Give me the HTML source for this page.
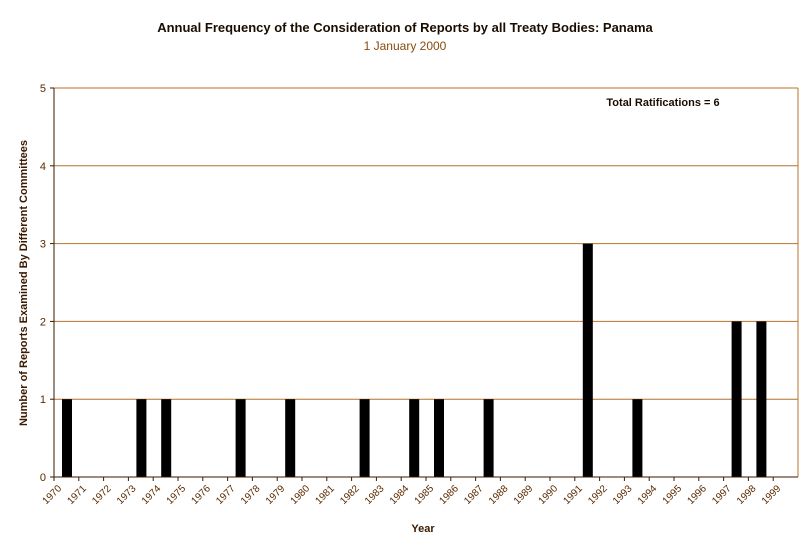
<!DOCTYPE html>
<html><head><meta charset="utf-8"><style>
body{margin:0;background:#fff;}
svg text{font-family:"Liberation Sans",Arial,sans-serif;}
</style></head><body>
<svg id="chart" width="811" height="552" xmlns="http://www.w3.org/2000/svg">
<text x="405" y="32" text-anchor="middle" font-size="13" font-weight="bold" fill="#1a0d00">Annual Frequency of the Consideration of Reports by all Treaty Bodies: Panama</text>
<text x="405" y="50" text-anchor="middle" font-size="12" fill="#8a4a10">1 January 2000</text>
<g id="grid"></g><g id="bars"></g><g id="axes"></g>
<text x="663" y="106" text-anchor="middle" font-size="11" font-weight="bold" fill="#1a0d00">Total Ratifications = 6</text>
<text x="423" y="532" text-anchor="middle" font-size="11" font-weight="bold" fill="#3a1a00">Year</text>
<text transform="translate(27,283) rotate(-90)" text-anchor="middle" font-size="11" font-weight="bold" fill="#3a1a00">Number of Reports Examined By Different Committees</text>
</svg>
<script>
const years=[1970,1971,1972,1973,1974,1975,1976,1977,1978,1979,1980,1981,1982,1983,1984,1985,1986,1987,1988,1989,1990,1991,1992,1993,1994,1995,1996,1997,1998,1999];
const counts=[1,0,0,1,1,0,0,1,0,1,0,0,1,0,1,1,0,1,0,0,0,3,0,1,0,0,0,2,2,0];
const yTicks=[0,1,2,3,4,5];
const NS="http://www.w3.org/2000/svg";
const X0=54,X1=798,Y0=477,Y1=88,YMAX=5;
const cw=(X1-X0)/years.length;
function xs(i){return X0+i*cw;}
function ys(v){return Y0-(v/YMAX)*(Y0-Y1);}
function mk(t,a,p){const e=document.createElementNS(NS,t);for(const k in a)e.setAttribute(k,a[k]);p.appendChild(e);return e;}
const grid=document.getElementById('grid'),bars=document.getElementById('bars'),axes=document.getElementById('axes');
yTicks.forEach(v=>{
 if(v>0){const l=mk('line',{x1:X0,x2:X1,y1:ys(v),y2:ys(v),stroke:'#b8702a','stroke-width':1},grid);
 
 }
 const tk=mk('line',{x1:X0-4,x2:X0,y1:ys(v),y2:ys(v),stroke:'#3a1a00'},axes);
 
 
 const t=mk('text',{x:X0-8,y:ys(v)+4,'text-anchor':'end','font-size':11,fill:'#5a2a00'},axes);
 t.textContent=v;
 
 
});
mk('line',{x1:X1,x2:X1,y1:Y1,y2:Y0,stroke:'#b8702a'},grid);
counts.forEach((c,i)=>{
 if(c<=0)return;
 const r=mk('rect',{x:xs(i)+8,y:ys(c),width:10,height:Y0-ys(c),fill:'#000'},bars);
 
 
});
const ax=mk('line',{x1:X0,x2:X0,y1:Y1,y2:Y0,stroke:'#3a1a00','stroke-width':1},axes);


const bx=mk('line',{x1:X0,x2:X1,y1:Y0,y2:Y0,stroke:'#3a1a00','stroke-width':1},axes);


years.forEach((y,i)=>{
 const tk=mk('line',{x1:xs(i),x2:xs(i),y1:Y0,y2:Y0+4,stroke:'#3a1a00'},axes);
 
 
 const tx=xs(i)+8,ty=Y0+12;
 const t=mk('text',{x:tx,y:ty,'text-anchor':'end','font-size':10,fill:'#5a2a00',transform:`rotate(-45 ${tx} ${ty})`},axes);
 t.textContent=y;
 
 
});
</script>
</body></html>
